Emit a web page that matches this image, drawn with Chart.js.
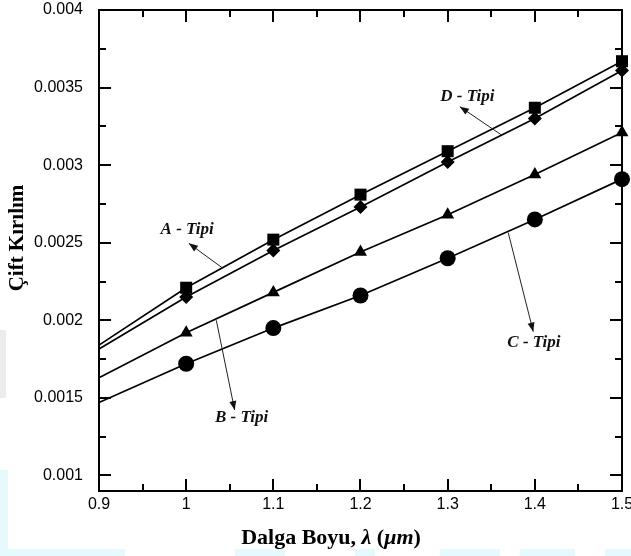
<!DOCTYPE html>
<html>
<head>
<meta charset="utf-8">
<script src="https://cdn.jsdelivr.net/npm/chart.js@4.4.1/dist/chart.umd.min.js"></script>
<style>
  html, body { margin: 0; padding: 0; background: #fff; }
  #wrap { width: 631px; height: 556px; }
</style>
</head>
<body>
<div id="wrap"><canvas id="c" width="631" height="556"></canvas></div>
<script>
// Wavelength (µm) and birefringence for the four fibre types
const wavelengths = [0.9, 1.0, 1.1, 1.2, 1.3, 1.4, 1.5];
const tipA = [0.00184, 0.00221, 0.00252, 0.00281, 0.00309, 0.00337, 0.00367];
const tipB = [0.00163, 0.00192, 0.00218, 0.00244, 0.00268, 0.00294, 0.00321];
const tipC = [0.00147, 0.00172, 0.00195, 0.00216, 0.00240, 0.00265, 0.00291];
const tipD = [0.001815, 0.00215, 0.00245, 0.00273, 0.00302, 0.00330, 0.00361];

const xTicks = [0.9, 1.0, 1.1, 1.2, 1.3, 1.4, 1.5];
const xTickLabels = ['0.9', '1', '1.1', '1.2', '1.3', '1.4', '1.5'];
const xMinorTicks = [0.95, 1.05, 1.15, 1.25, 1.35, 1.45];
const yTicks = [0.001, 0.0015, 0.002, 0.0025, 0.003, 0.0035, 0.004];
const yTickLabels = ['0.001', '0.0015', '0.002', '0.0025', '0.003', '0.0035', '0.004'];
const yMinorTicks = [0.00125, 0.00175, 0.00225, 0.00275, 0.00325, 0.00375];

const xTitle = [['Dalga Boyu, ', false], ['\u03BB', true], [' (', false], ['\u03BCm', true], [')', false]];
const yTitle = 'Çift Kırılım';

// Callout labels: text position, arrow tail on the curve, arrow head near the text (data units)
const callouts = [
  { text: 'A - Tipi', at: [1.0012, 0.002582], from: [1.0422, 0.002335], to: [1.0031, 0.002496] },
  { text: 'B - Tipi', at: [1.0636, 0.00137],  from: [1.0346, 0.00200],  to: [1.0556, 0.001422] },
  { text: 'C - Tipi', at: [1.399,  0.001854], from: [1.3695, 0.002565], to: [1.3982, 0.001927] },
  { text: 'D - Tipi', at: [1.3226, 0.003441], from: [1.3619, 0.003194], to: [1.314,  0.003377] }
];

function series(values, style, radius) {
  return {
    data: wavelengths.map((x, i) => ({ x: x, y: values[i] })),
    borderColor: '#000',
    borderWidth: 1.7,
    backgroundColor: '#000',
    pointBackgroundColor: '#000',
    pointBorderColor: '#000',
    pointBorderWidth: 0,
    pointStyle: style,
    pointRadius: wavelengths.map((x, i) => (i === 0 ? 0 : radius)),
    tension: 0,
    clip: false,
    fill: false
  };
}

const SERIF = '"Liberation Serif", "Times New Roman", serif';
const SANS = '"Liberation Sans", Arial, sans-serif';

function drawRuns(ctx, runs, cx, cy, size) {
  let total = 0;
  runs.forEach(([t, it]) => {
    ctx.font = (it ? 'italic ' : '') + 'bold ' + size + 'px ' + SERIF;
    total += ctx.measureText(t).width;
  });
  let x = cx - total / 2;
  ctx.textAlign = 'left';
  ctx.textBaseline = 'middle';
  runs.forEach(([t, it]) => {
    ctx.font = (it ? 'italic ' : '') + 'bold ' + size + 'px ' + SERIF;
    ctx.fillText(t, x, cy);
    x += ctx.measureText(t).width;
  });
}

const framePlugin = {
  id: 'framePlugin',
  beforeDraw(chart) {
    const ctx = chart.ctx;
    ctx.save();
    ctx.fillStyle = '#fff';
    ctx.fillRect(0, 0, chart.width, chart.height);
    // faint background tint along the lower and left edges
    ctx.fillStyle = '#e6fafd';
    ctx.fillRect(0, 470, 8, 86);
    [[0, 125], [235, 285], [355, 375], [440, 500], [520, 575], [605, 631]].forEach(([a, b]) => {
      ctx.fillRect(a, 549, b - a, 7);
    });
    ctx.fillStyle = '#ececec';
    ctx.fillRect(0, 330, 6, 68);
    ctx.restore();
  },
  beforeDatasetsDraw(chart) {
    const { ctx, chartArea: a, scales } = chart;
    const xs = scales.x, ys = scales.y;
    const L = Math.round(a.left), R = Math.round(a.right), T = Math.round(a.top), B = Math.round(a.bottom);
    ctx.save();
    ctx.strokeStyle = '#000';
    ctx.lineCap = 'butt';
    const tick = (x1, y1, x2, y2, w) => {
      ctx.lineWidth = w;
      ctx.beginPath(); ctx.moveTo(x1, y1); ctx.lineTo(x2, y2); ctx.stroke();
    };
    xTicks.forEach(v => {
      const p = Math.round(xs.getPixelForValue(v));
      tick(p, B, p, B - 12, 2);
      tick(p, T, p, T + 12, 2);
    });
    xMinorTicks.forEach(v => {
      const p = Math.round(xs.getPixelForValue(v));
      tick(p, B, p, B - 7, 2);
      tick(p, T, p, T + 7, 2);
    });
    yTicks.forEach(v => {
      const p = Math.round(ys.getPixelForValue(v));
      tick(L, p, L + 12, p, 2);
      tick(R, p, R - 12, p, 2);
    });
    yMinorTicks.forEach(v => {
      const p = Math.round(ys.getPixelForValue(v));
      tick(L, p, L + 7, p, 2);
      tick(R, p, R - 7, p, 2);
    });
    ctx.lineWidth = 2;
    ctx.strokeRect(L, T, R - L, B - T);
    ctx.restore();
  },
  afterDatasetsDraw(chart) {
    const { ctx, scales } = chart;
    const xs = scales.x, ys = scales.y;
    const px = p => [xs.getPixelForValue(p[0]), ys.getPixelForValue(p[1])];
    ctx.save();
    callouts.forEach(c => {
      const [x1, y1] = px(c.from), [x2, y2] = px(c.to);
      ctx.strokeStyle = '#222';
      ctx.lineWidth = 1;
      ctx.beginPath(); ctx.moveTo(x1, y1); ctx.lineTo(x2, y2); ctx.stroke();
      const ang = Math.atan2(y2 - y1, x2 - x1);
      const L = 9, W = 3.5;
      ctx.fillStyle = '#111';
      ctx.beginPath();
      ctx.moveTo(x2, y2);
      ctx.lineTo(x2 - L * Math.cos(ang) + W * Math.sin(ang), y2 - L * Math.sin(ang) - W * Math.cos(ang));
      ctx.lineTo(x2 - L * Math.cos(ang) - W * Math.sin(ang), y2 - L * Math.sin(ang) + W * Math.cos(ang));
      ctx.closePath();
      ctx.fill();
      const [tx, ty] = px(c.at);
      ctx.fillStyle = '#111';
      ctx.font = 'italic bold 17px ' + SERIF;
      ctx.textAlign = 'center';
      ctx.textBaseline = 'middle';
      ctx.fillText(c.text, tx, ty);
    });
    // axis titles
    ctx.fillStyle = '#000';
    drawRuns(ctx, xTitle, 331, 538, 22);
    ctx.translate(18, 238);
    ctx.rotate(-Math.PI / 2);
    ctx.font = 'bold 21px ' + SERIF;
    ctx.textAlign = 'center';
    ctx.textBaseline = 'middle';
    ctx.fillText(yTitle, 0, 0);
    ctx.restore();
  }
};

new Chart(document.getElementById('c'), {
  type: 'line',
  data: {
    datasets: [
      series(tipA, 'rect', 8.5),
      series(tipD, 'rectRot', 7),
      series(tipB, 'triangle', 7.5),
      series(tipC, 'circle', 8)
    ]
  },
  options: {
    responsive: false,
    animation: false,
    devicePixelRatio: 1,
    layout: { padding: { top: 10, right: 9, left: 0, bottom: 0 } },
    plugins: { legend: { display: false }, tooltip: { enabled: false } },
    scales: {
      x: {
        type: 'linear',
        min: 0.9,
        max: 1.5,
        afterBuildTicks: s => { s.ticks = xTicks.map(v => ({ value: v })); },
        afterFit: s => { s.height = 65; s.paddingLeft = 0; s.paddingRight = 0; },
        ticks: {
          callback: (v, i) => xTickLabels[i],
          font: { family: SANS, size: 16 },
          color: '#000',
          padding: -4,
          maxRotation: 0,
          autoSkip: false
        },
        grid: { display: false },
        border: { display: false }
      },
      y: {
        type: 'linear',
        min: 0.0009,
        max: 0.004,
        afterBuildTicks: s => { s.ticks = yTicks.map(v => ({ value: v })); },
        afterFit: s => { s.width = 99; s.paddingTop = 0; s.paddingBottom = 0; },
        ticks: {
          callback: (v, i) => yTickLabels[i],
          font: { family: SANS, size: 16 },
          color: '#000',
          padding: 8,
          autoSkip: false
        },
        grid: { display: false },
        border: { display: false }
      }
    }
  },
  plugins: [framePlugin]
});
</script>
</body>
</html>
